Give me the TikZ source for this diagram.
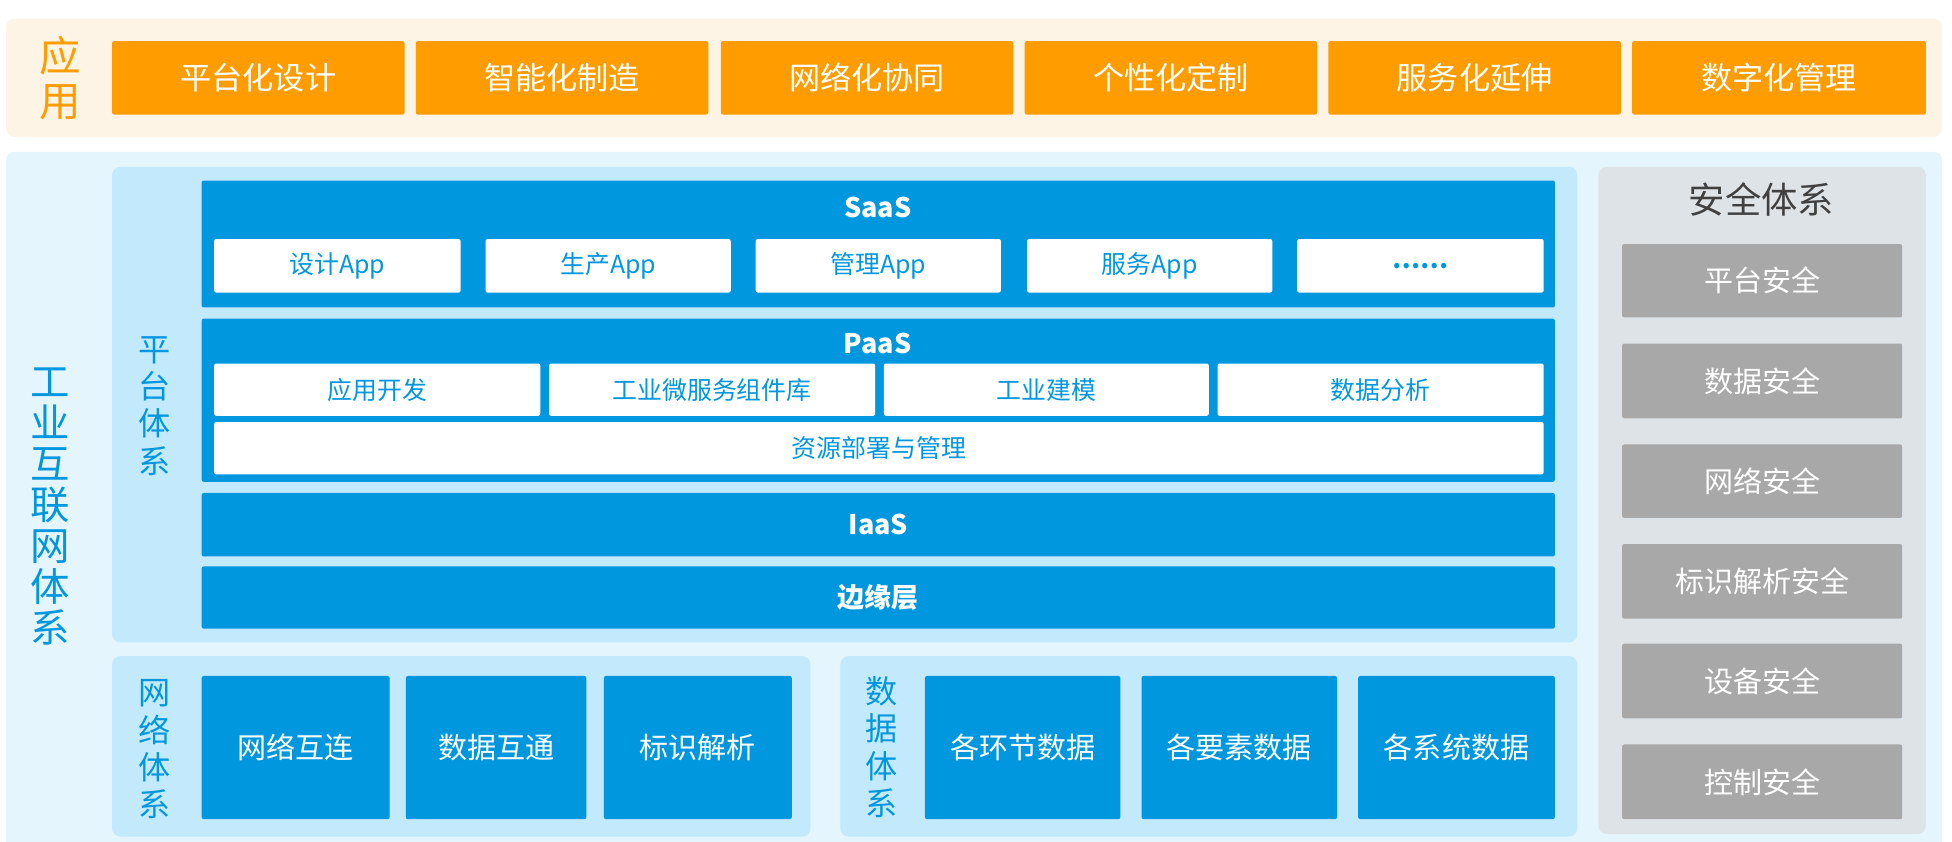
\documentclass[tikz,border=0pt]{standalone}
\usepackage{fontspec}
\setmainfont{Noto Sans CJK SC}
\definecolor{orng}{HTML}{FF9C00}
\definecolor{orngbg}{HTML}{FEF4E6}
\definecolor{blu}{HTML}{0097DF}
\definecolor{blubg}{HTML}{E4F5FD}
\definecolor{blupanel}{HTML}{C3E9FC}
\definecolor{graypanel}{HTML}{DEE3E8}
\definecolor{graybox}{HTML}{A8A8A8}
\definecolor{darktext}{HTML}{404040}
\newcommand\mkbox[7]{\node[#2, minimum width={(#5-#3)*0.6pt}, minimum height={(#6-#4)*0.6pt}, anchor=north west] (#1) at (#3,#4) {#7};}
\tikzset{
  base/.style={inner sep=0pt, outer sep=0pt, rounded corners=1pt, align=center},
  band/.style={base, rounded corners=4pt},
  appbox/.style={base, fill=orng, text=white, font=\fontsize{15}{17}\selectfont},
  layer/.style={base, fill=blu, text=white},
  wbox/.style={base, fill=white, text=blu, font=\fontsize{12}{14}\selectfont},
  bigblue/.style={base, fill=blu, text=white, font=\fontsize{14}{16}\selectfont},
  secbox/.style={base, fill=graybox, text=white, font=\fontsize{14}{16}\selectfont},
  vlabel/.style={inner sep=0pt, align=center, text=blu, font=\fontsize{15.5}{18}\selectfont},
  ttl/.style={inner sep=0pt, text=white, font=\bfseries\fontsize{13}{15}\selectfont},
}
\begin{document}
\begin{tikzpicture}[x=0.6pt, y=-0.6pt]
\clip (0,0) rectangle (1568,676);
\fill[white] (0,0) rectangle (1568,676);
% application band
\mkbox{appband}{band, fill=orngbg}{5}{15}{1560}{110}{}
\node[inner sep=0pt, align=center, text=orng, font=\fontsize{20}{21.5}\selectfont] (applbl) at (48,63) {应\\用};
\mkbox{a1}{appbox}{90}{33}{325}{92}{平台化设计}
\mkbox{a2}{appbox}{334}{33}{569}{92}{智能化制造}
\mkbox{a3}{appbox}{579}{33}{814}{92}{网络化协同}
\mkbox{a4}{appbox}{823}{33}{1058}{92}{个性化定制}
\mkbox{a5}{appbox}{1067}{33}{1302}{92}{服务化延伸}
\mkbox{a6}{appbox}{1311}{33}{1547}{92}{数字化管理}
% main band
\mkbox{mainband}{band, fill=blubg}{5}{122}{1560}{690}{}
\node[inner sep=0pt, align=center, text=blu, font=\fontsize{19}{19.8}\selectfont] (iilbl) at (40,407) {工\\业\\互\\联\\网\\体\\系};
% platform panel
\mkbox{platform}{band, fill=blupanel}{90}{134}{1267}{516}{}
\node[vlabel] (platlbl) at (124,326) {平\\台\\体\\系};
% SaaS
\mkbox{saas}{layer}{162}{145}{1249}{247}{}
\node[ttl] (saast) at (705,167) {SaaS};
\mkbox{s1}{wbox}{172}{192}{370}{235}{设计App}
\mkbox{s2}{wbox}{390}{192}{587}{235}{生产App}
\mkbox{s3}{wbox}{607}{192}{804}{235}{管理App}
\mkbox{s4}{wbox}{825}{192}{1022}{235}{服务App}
\mkbox{s5}{wbox, font=\bfseries\fontsize{12}{14}\selectfont}{1042}{192}{1240}{235}{……}
% PaaS
\mkbox{paas}{layer}{162}{256}{1249}{387}{}
\node[ttl] (paast) at (705,276) {PaaS};
\mkbox{p1}{wbox}{172}{292}{434}{334}{应用开发}
\mkbox{p2}{wbox}{441}{292}{703}{334}{工业微服务组件库}
\mkbox{p3}{wbox}{710}{292}{971}{334}{工业建模}
\mkbox{p4}{wbox}{978}{292}{1240}{334}{数据分析}
\mkbox{p5}{wbox}{172}{339}{1240}{381}{资源部署与管理}
% IaaS and edge
\mkbox{iaas}{layer, font=\bfseries\fontsize{13}{15}\selectfont}{162}{396}{1249}{447}{IaaS}
\mkbox{edge}{layer, font=\bfseries\fontsize{13}{15}\selectfont}{162}{455}{1249}{505}{边缘层}
% network panel
\mkbox{netpanel}{band, fill=blupanel}{90}{527}{651}{672}{}
\node[vlabel] (netlbl) at (124,602) {网\\络\\体\\系};
\mkbox{n1}{bigblue}{162}{543}{313}{658}{网络互连}
\mkbox{n2}{bigblue}{326}{543}{471}{658}{数据互通}
\mkbox{n3}{bigblue}{485}{543}{636}{658}{标识解析}
% data panel
\mkbox{datapanel}{band, fill=blupanel}{675}{527}{1267}{672}{}
\node[vlabel] (datalbl) at (708,600) {数\\据\\体\\系};
\mkbox{d1}{bigblue}{743}{543}{900}{658}{各环节数据}
\mkbox{d2}{bigblue}{917}{543}{1074}{658}{各要素数据}
\mkbox{d3}{bigblue}{1091}{543}{1249}{658}{各系统数据}
% security panel
\mkbox{secpanel}{band, fill=graypanel}{1284}{134}{1547}{670}{}
\node[inner sep=0pt, text=darktext, font=\fontsize{17.5}{20}\selectfont] (sectitle) at (1415,160) {安全体系};
\mkbox{c1}{secbox}{1303}{196}{1528}{255}{平台安全}
\mkbox{c2}{secbox}{1303}{276}{1528}{336}{数据安全}
\mkbox{c3}{secbox}{1303}{357}{1528}{416}{网络安全}
\mkbox{c4}{secbox}{1303}{437}{1528}{497}{标识解析安全}
\mkbox{c5}{secbox}{1303}{517}{1528}{577}{设备安全}
\mkbox{c6}{secbox}{1303}{598}{1528}{658}{控制安全}
\end{tikzpicture}
\end{document}
